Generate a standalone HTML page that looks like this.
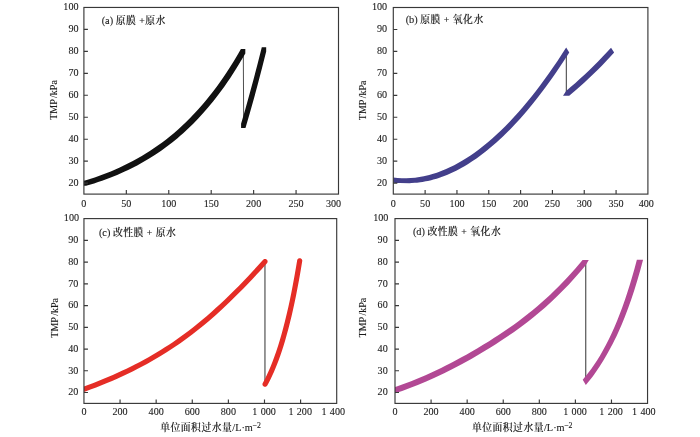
<!DOCTYPE html>
<html lang="zh-CN">
<head>
<meta charset="utf-8">
<title>TMP vs 单位面积过水量</title>
<style>
html,body{margin:0;padding:0;background:#fff;}
body{width:700px;height:437px;overflow:hidden;}
svg{display:block;will-change:transform;}
text{font-family:"Liberation Serif", "Noto Serif CJK SC", serif;fill:#1a1a1a;stroke:#1a1a1a;stroke-width:0.1px;}
.tk{font-size:11.0px;}
.lb{font-size:10.3px;}
.yl{font-size:10px;word-spacing:-0.8px;}
.cj{font-weight:500;stroke-width:0.15px;font-size:9.8px;letter-spacing:0.5px;}
</style>
</head>
<body>
<svg width="700" height="437" viewBox="0 0 700 437">
<rect width="700" height="437" fill="#ffffff"/>

<g id="panel-a">
<clipPath id="clip-a"><rect x="83.9" y="7.45" width="254.60" height="186.65"/></clipPath>
<line x1="243.3" y1="51.5" x2="243.70000000000002" y2="125.0" stroke="#222" stroke-width="0.8"/>
<path d="M114.74,169.69 110.74,171.38 106.73,172.99 102.73,174.52 98.72,175.98 94.72,177.38 90.71,178.71 86.71,179.97 81.70,181.47 81.70,185.87 86.10,185.87 94.11,183.43 98.12,182.12 102.12,180.74 106.13,179.29 110.13,177.78 117.14,174.94 124.15,171.86 128.16,169.98 131.16,168.52 137.17,165.42 143.18,162.11 149.18,158.56 155.19,154.76 161.20,150.69 166.21,147.08 169.21,144.81 172.21,142.47 177.22,138.39 180.22,135.82 183.23,133.17 188.23,128.56 193.24,123.68 198.25,118.52 203.25,113.08 208.26,107.32 213.27,101.24 218.27,94.82 221.28,90.79 224.28,86.64 227.29,82.34 230.29,77.90 233.29,73.32 236.30,68.58 241.30,60.33 245.31,53.41 245.31,49.01 240.91,49.01 237.91,54.23 233.90,60.93 230.90,65.78 226.89,71.99 223.89,76.48 219.88,82.24 216.88,86.39 212.87,91.73 209.87,95.58 205.86,100.53 201.86,105.26 197.85,109.79 193.85,114.12 189.84,118.27 185.84,122.24 181.83,126.04 177.83,129.67 173.82,133.14 169.82,136.46 165.81,139.64 161.81,142.68 157.80,145.58 153.80,148.36 149.79,151.01 145.78,153.54 141.78,155.96 137.77,158.28 132.77,161.02 128.76,163.11 123.76,165.58 119.75,167.46Z" fill="#111111" clip-path="url(#clip-a)"/>
<path d="M245.38,108.97 241.08,123.72 241.08,128.12 245.48,128.12 249.78,113.37 253.94,98.52 258.11,83.11 262.28,67.12 266.19,51.59 266.19,47.19 261.79,47.19 257.75,63.23 253.71,78.71 249.54,94.12Z" fill="#111111" clip-path="url(#clip-a)"/>
<rect x="83.9" y="7.45" width="254.60" height="186.65" fill="none" stroke="#383838" stroke-width="1.15"/>
<text class="tk" transform="translate(78.50,185.92) scale(0.92,1)" text-anchor="end">20</text>
<text class="tk" transform="translate(78.50,163.96) scale(0.92,1)" text-anchor="end">30</text>
<text class="tk" transform="translate(78.50,142.00) scale(0.92,1)" text-anchor="end">40</text>
<text class="tk" transform="translate(78.50,120.04) scale(0.92,1)" text-anchor="end">50</text>
<text class="tk" transform="translate(78.50,98.09) scale(0.92,1)" text-anchor="end">60</text>
<text class="tk" transform="translate(78.50,76.13) scale(0.92,1)" text-anchor="end">70</text>
<text class="tk" transform="translate(78.50,54.17) scale(0.92,1)" text-anchor="end">80</text>
<text class="tk" transform="translate(78.50,32.21) scale(0.92,1)" text-anchor="end">90</text>
<text class="tk" transform="translate(78.50,10.25) scale(0.92,1)" text-anchor="end">100</text>
<text class="tk" transform="translate(83.90,206.80) scale(0.92,1)" text-anchor="middle">0</text>
<text class="tk" transform="translate(126.33,206.80) scale(0.92,1)" text-anchor="middle">50</text>
<text class="tk" transform="translate(168.77,206.80) scale(0.92,1)" text-anchor="middle">100</text>
<text class="tk" transform="translate(211.20,206.80) scale(0.92,1)" text-anchor="middle">150</text>
<text class="tk" transform="translate(253.63,206.80) scale(0.92,1)" text-anchor="middle">200</text>
<text class="tk" transform="translate(296.07,206.80) scale(0.92,1)" text-anchor="middle">250</text>
<text class="tk" transform="translate(333.50,206.80) scale(0.92,1)" text-anchor="middle">300</text>
<path d="M83.9,183.12h4M83.9,161.16h4M83.9,139.20h4M83.9,117.24h4M83.9,95.29h4M83.9,73.33h4M83.9,51.37h4M83.9,29.41h4M126.33,194.1v-4M168.77,194.1v-4M211.20,194.1v-4M253.63,194.1v-4M296.07,194.1v-4" stroke="#383838" stroke-width="1.15" fill="none"/>
<text class="lb" x="101.7" y="24.0" xml:space="preserve">(a) <tspan class="cj">原膜 +原水</tspan></text>
<text class="yl" transform="translate(57.3,100.0) rotate(-90)" text-anchor="middle">TMP /kPa</text>
</g>
<g id="panel-b">
<clipPath id="clip-b"><rect x="393.3" y="7.5" width="254.60" height="186.60"/></clipPath>
<line x1="566.3" y1="52.0" x2="566.3" y2="93.5" stroke="#222" stroke-width="0.9"/>
<path d="M429.18,174.97 425.92,175.78 423.74,176.25 419.39,177.06 415.05,177.66 410.70,178.05 406.35,178.23 404.17,178.23 402.00,178.17 397.65,177.89 393.30,177.40 390.20,182.30 393.46,182.68 395.64,182.88 399.99,183.11 409.45,183.13 411.62,183.07 414.88,182.87 417.06,182.67 420.32,182.28 422.49,181.96 425.76,181.37 427.93,180.92 431.19,180.15 433.37,179.58 436.63,178.63 438.80,177.93 442.06,176.80 444.24,175.99 447.50,174.68 449.68,173.74 452.94,172.25 456.20,170.66 459.46,168.96 461.64,167.77 464.90,165.90 468.16,163.92 471.42,161.84 476.86,158.14 480.12,155.79 483.38,153.33 486.64,150.77 489.90,148.11 493.17,145.34 496.43,142.48 499.69,139.51 502.95,136.45 506.21,133.28 510.56,128.90 513.82,125.50 517.09,121.99 520.35,118.39 523.61,114.69 526.87,110.89 530.13,106.99 533.39,102.99 537.74,97.50 541.00,93.27 545.35,87.47 548.62,83.01 552.96,76.91 556.23,72.22 560.58,65.82 564.92,59.24 569.27,52.49 566.17,47.59 561.82,54.34 557.48,60.92 553.13,67.32 548.78,73.56 544.43,79.61 540.08,85.49 535.73,91.20 531.38,96.73 527.03,102.09 522.68,107.27 518.33,112.27 513.99,117.09 509.64,121.74 505.29,126.21 500.94,130.50 496.59,134.61 492.24,138.55 487.89,142.30 483.54,145.87 479.19,149.26 474.84,152.47 470.50,155.50 466.15,158.34 462.88,160.35 458.54,162.87 454.19,165.21 449.84,167.35 445.49,169.31 441.14,171.09 436.79,172.67 432.44,174.06Z" fill="#433f8b" clip-path="url(#clip-b)"/>
<path d="M575.44,82.89 570.91,86.82 566.11,90.89 563.01,95.79 569.21,95.79 576.84,89.28 584.19,82.70 591.54,75.82 598.60,68.90 602.56,64.88 606.52,60.77 610.47,56.55 614.15,52.54 611.05,47.64 606.81,52.26 602.29,57.06 598.05,61.43 593.52,65.97 589.00,70.38 584.48,74.67 579.96,78.83Z" fill="#433f8b" clip-path="url(#clip-b)"/>
<rect x="393.3" y="7.5" width="254.60" height="186.60" fill="none" stroke="#383838" stroke-width="1.15"/>
<text class="tk" transform="translate(387.10,185.92) scale(0.92,1)" text-anchor="end">20</text>
<text class="tk" transform="translate(387.10,163.97) scale(0.92,1)" text-anchor="end">30</text>
<text class="tk" transform="translate(387.10,142.02) scale(0.92,1)" text-anchor="end">40</text>
<text class="tk" transform="translate(387.10,120.06) scale(0.92,1)" text-anchor="end">50</text>
<text class="tk" transform="translate(387.10,98.11) scale(0.92,1)" text-anchor="end">60</text>
<text class="tk" transform="translate(387.10,76.16) scale(0.92,1)" text-anchor="end">70</text>
<text class="tk" transform="translate(387.10,54.21) scale(0.92,1)" text-anchor="end">80</text>
<text class="tk" transform="translate(387.10,32.25) scale(0.92,1)" text-anchor="end">90</text>
<text class="tk" transform="translate(387.10,10.30) scale(0.92,1)" text-anchor="end">100</text>
<text class="tk" transform="translate(393.30,206.80) scale(0.92,1)" text-anchor="middle">0</text>
<text class="tk" transform="translate(425.12,206.80) scale(0.92,1)" text-anchor="middle">50</text>
<text class="tk" transform="translate(456.95,206.80) scale(0.92,1)" text-anchor="middle">100</text>
<text class="tk" transform="translate(488.77,206.80) scale(0.92,1)" text-anchor="middle">150</text>
<text class="tk" transform="translate(520.60,206.80) scale(0.92,1)" text-anchor="middle">200</text>
<text class="tk" transform="translate(552.42,206.80) scale(0.92,1)" text-anchor="middle">250</text>
<text class="tk" transform="translate(584.25,206.80) scale(0.92,1)" text-anchor="middle">300</text>
<text class="tk" transform="translate(616.08,206.80) scale(0.92,1)" text-anchor="middle">350</text>
<text class="tk" transform="translate(646.30,206.80) scale(0.92,1)" text-anchor="middle">400</text>
<path d="M393.3,183.12h4M393.3,161.17h4M393.3,139.22h4M393.3,117.26h4M393.3,95.31h4M393.3,73.36h4M393.3,51.41h4M393.3,29.45h4M425.12,194.1v-4M456.95,194.1v-4M488.77,194.1v-4M520.60,194.1v-4M552.42,194.1v-4M584.25,194.1v-4M616.08,194.1v-4" stroke="#383838" stroke-width="1.15" fill="none"/>
<text class="lb" x="405.7" y="22.8" xml:space="preserve">(b) <tspan class="cj">原膜 + 氧化水</tspan></text>
<text class="yl" transform="translate(366.4,100.4) rotate(-90)" text-anchor="middle">TMP /kPa</text>
</g>
<g id="panel-c">
<clipPath id="clip-c"><rect x="83.95" y="218.6" width="252.75" height="184.80"/></clipPath>
<line x1="264.95" y1="263.0" x2="264.95" y2="383.0" stroke="#606060" stroke-width="1.3"/>
<path d="M121.87,370.86 112.76,374.95 103.65,378.81 93.40,382.89 83.15,386.73 82.42,387.10 81.85,387.68 81.48,388.40 81.35,389.21 81.48,390.01 81.85,390.74 82.42,391.31 83.15,391.68 83.95,391.81 84.75,391.68 90.45,389.57 96.14,387.40 106.39,383.29 112.09,380.89 116.64,378.90 125.75,374.73 132.59,371.43 140.14,367.59 146.98,363.95 153.81,360.11 160.64,356.08 167.48,351.83 174.31,347.36 180.00,343.46 186.84,338.56 192.53,334.28 198.22,329.82 203.92,325.19 209.61,320.38 216.45,314.38 222.14,309.20 228.97,302.78 233.53,298.37 238.08,293.86 243.21,288.69 247.77,284.00 252.33,279.22 256.88,274.36 261.44,269.40 267.13,263.10 267.50,262.37 267.63,261.57 267.50,260.77 267.13,260.04 266.56,259.47 265.83,259.10 265.03,258.97 264.22,259.10 263.50,259.47 262.92,260.04 257.23,266.35 252.67,271.30 248.12,276.17 243.56,280.95 239.01,285.64 233.89,290.79 229.33,295.27 224.78,299.65 220.22,303.94 215.67,308.12 211.11,312.20 206.56,316.17 202.00,320.03 197.45,323.78 192.89,327.42 188.33,330.95 184.92,333.51 180.36,336.84 176.95,339.26 172.39,342.39 168.97,344.67 164.42,347.62 161.00,349.77 156.45,352.56 148.48,357.20 143.92,359.74 139.36,362.19 134.81,364.56 130.98,366.49 126.42,368.71Z" fill="#e52d26" clip-path="url(#clip-c)"/>
<path d="M270.62,366.43 268.66,371.03 266.70,375.32 264.78,379.23 262.55,383.46 262.43,384.27 262.55,385.07 262.92,385.80 263.50,386.37 264.22,386.74 265.03,386.87 265.83,386.74 266.56,386.37 267.13,385.80 268.66,382.93 270.55,379.18 272.30,375.53 273.82,372.14 275.57,368.04 277.09,364.24 278.84,359.64 280.36,355.38 281.89,350.88 283.41,346.14 284.94,341.14 286.47,335.87 288.21,329.48 289.74,323.56 291.48,316.40 293.01,309.77 294.53,302.77 296.06,295.39 297.58,287.60 299.11,279.39 300.64,270.72 302.29,260.78 302.16,259.97 301.79,259.25 301.22,258.67 300.49,258.31 299.69,258.18 298.89,258.31 298.16,258.67 297.59,259.25 297.22,259.97 295.91,267.84 294.38,276.57 292.86,284.85 291.33,292.70 289.81,300.14 288.28,307.19 286.75,313.87 285.01,321.09 283.27,327.87 281.52,334.26 279.78,340.27 278.03,345.92 276.29,351.23 274.33,356.84 272.58,361.51Z" fill="#e52d26" clip-path="url(#clip-c)"/>
<rect x="83.95" y="218.6" width="252.75" height="184.80" fill="none" stroke="#383838" stroke-width="1.15"/>
<text class="tk" transform="translate(78.40,395.33) scale(0.92,1)" text-anchor="end">20</text>
<text class="tk" transform="translate(78.40,373.59) scale(0.92,1)" text-anchor="end">30</text>
<text class="tk" transform="translate(78.40,351.85) scale(0.92,1)" text-anchor="end">40</text>
<text class="tk" transform="translate(78.40,330.11) scale(0.92,1)" text-anchor="end">50</text>
<text class="tk" transform="translate(78.40,308.36) scale(0.92,1)" text-anchor="end">60</text>
<text class="tk" transform="translate(78.40,286.62) scale(0.92,1)" text-anchor="end">70</text>
<text class="tk" transform="translate(78.40,264.88) scale(0.92,1)" text-anchor="end">80</text>
<text class="tk" transform="translate(78.40,243.14) scale(0.92,1)" text-anchor="end">90</text>
<text class="tk" transform="translate(79.00,221.40) scale(0.92,1)" text-anchor="end">100</text>
<text class="tk" transform="translate(83.95,415.20) scale(0.92,1)" text-anchor="middle">0</text>
<text class="tk" transform="translate(120.06,415.20) scale(0.92,1)" text-anchor="middle">200</text>
<text class="tk" transform="translate(156.16,415.20) scale(0.92,1)" text-anchor="middle">400</text>
<text class="tk" transform="translate(192.27,415.20) scale(0.92,1)" text-anchor="middle">600</text>
<text class="tk" transform="translate(228.38,415.20) scale(0.92,1)" text-anchor="middle">800</text>
<text class="tk" transform="translate(264.09,415.20) scale(0.92,1)" text-anchor="middle">1 000</text>
<text class="tk" transform="translate(300.19,415.20) scale(0.92,1)" text-anchor="middle">1 200</text>
<text class="tk" transform="translate(333.20,415.20) scale(0.92,1)" text-anchor="middle">1 400</text>
<path d="M83.95,392.53h4M83.95,370.79h4M83.95,349.05h4M83.95,327.31h4M83.95,305.56h4M83.95,283.82h4M83.95,262.08h4M83.95,240.34h4M120.06,403.4v-4M156.16,403.4v-4M192.27,403.4v-4M228.38,403.4v-4M264.49,403.4v-4M300.59,403.4v-4" stroke="#383838" stroke-width="1.15" fill="none"/>
<text class="lb" x="98.9" y="235.9" xml:space="preserve">(c) <tspan class="cj">改性膜 + 原水</tspan></text>
<text class="yl" transform="translate(58.2,317.8) rotate(-90)" text-anchor="middle">TMP /kPa</text>
<text class="lb" x="210.5" y="431.3" text-anchor="middle"><tspan class="cj">单位面积过水量</tspan>/L·m<tspan dy="-3.3" dx="-0.4" font-size="7.8">−2</tspan></text>
</g>
<g id="panel-d">
<clipPath id="clip-d"><rect x="395.0" y="218.6" width="252.55" height="184.80"/></clipPath>
<line x1="585.75" y1="263.0" x2="585.75" y2="381.5" stroke="#444" stroke-width="1.1"/>
<path d="M431.47,372.48 425.48,375.17 420.68,377.24 415.88,379.23 411.09,381.14 406.29,382.98 401.49,384.74 396.70,386.42 391.90,388.01 395.00,393.31 402.20,390.89 410.59,387.83 417.79,385.02 426.18,381.51 434.57,377.78 439.37,375.55 444.17,373.24 452.56,369.04 457.36,366.54 462.16,363.97 471.75,358.64 481.34,353.04 490.94,347.20 495.73,344.18 500.53,341.09 507.73,336.30 513.72,332.16 520.92,326.97 526.91,322.45 532.91,317.73 538.91,312.80 544.90,307.64 550.90,302.23 556.89,296.57 562.89,290.62 568.89,284.38 574.88,277.83 580.88,270.95 585.68,265.20 588.78,259.90 582.58,259.90 578.98,264.23 575.38,268.44 571.78,272.53 566.99,277.79 563.39,281.61 558.59,286.53 554.99,290.10 550.20,294.70 546.60,298.03 541.80,302.34 537.01,306.49 532.21,310.48 527.41,314.34 522.61,318.07 517.82,321.67 513.02,325.16 508.22,328.53 503.43,331.82 498.63,335.01 493.83,338.11 489.04,341.15 483.04,344.85 477.04,348.46 472.25,351.27 466.25,354.70 461.45,357.36 451.86,362.50 445.86,365.57 441.07,367.94 436.27,370.25Z" fill="#b24894" clip-path="url(#clip-d)"/>
<path d="M593.96,365.06 591.23,368.94 588.51,372.60 585.78,376.03 582.72,379.66 585.82,384.96 587.86,382.57 589.91,380.07 591.95,377.45 593.99,374.71 596.04,371.85 597.74,369.36 599.78,366.24 601.49,363.54 603.53,360.15 607.31,353.69 610.72,347.61 612.76,343.73 614.46,340.37 616.51,336.15 618.21,332.49 621.62,324.75 624.68,317.26 626.38,312.87 628.09,308.32 631.15,299.67 634.22,290.42 637.28,280.51 640.35,269.91 643.07,259.87 636.87,259.87 634.49,268.69 632.11,277.06 629.72,285.00 627.34,292.53 624.95,299.67 622.23,307.39 619.84,313.76 617.12,320.65 614.39,327.13 611.67,333.24 608.95,338.98 605.88,345.04 603.16,350.10 600.09,355.43 597.02,360.41Z" fill="#b24894" clip-path="url(#clip-d)"/>
<rect x="395.0" y="218.6" width="252.55" height="184.80" fill="none" stroke="#383838" stroke-width="1.15"/>
<text class="tk" transform="translate(387.70,395.33) scale(0.92,1)" text-anchor="end">20</text>
<text class="tk" transform="translate(387.70,373.59) scale(0.92,1)" text-anchor="end">30</text>
<text class="tk" transform="translate(387.70,351.85) scale(0.92,1)" text-anchor="end">40</text>
<text class="tk" transform="translate(387.70,330.11) scale(0.92,1)" text-anchor="end">50</text>
<text class="tk" transform="translate(387.70,308.36) scale(0.92,1)" text-anchor="end">60</text>
<text class="tk" transform="translate(387.70,286.62) scale(0.92,1)" text-anchor="end">70</text>
<text class="tk" transform="translate(387.70,264.88) scale(0.92,1)" text-anchor="end">80</text>
<text class="tk" transform="translate(387.70,243.14) scale(0.92,1)" text-anchor="end">90</text>
<text class="tk" transform="translate(388.30,221.40) scale(0.92,1)" text-anchor="end">100</text>
<text class="tk" transform="translate(395.00,415.20) scale(0.92,1)" text-anchor="middle">0</text>
<text class="tk" transform="translate(431.08,415.20) scale(0.92,1)" text-anchor="middle">200</text>
<text class="tk" transform="translate(467.16,415.20) scale(0.92,1)" text-anchor="middle">400</text>
<text class="tk" transform="translate(503.24,415.20) scale(0.92,1)" text-anchor="middle">600</text>
<text class="tk" transform="translate(539.31,415.20) scale(0.92,1)" text-anchor="middle">800</text>
<text class="tk" transform="translate(574.99,415.20) scale(0.92,1)" text-anchor="middle">1 000</text>
<text class="tk" transform="translate(611.07,415.20) scale(0.92,1)" text-anchor="middle">1 200</text>
<text class="tk" transform="translate(643.85,415.20) scale(0.92,1)" text-anchor="middle">1 400</text>
<path d="M395.0,392.53h4M395.0,370.79h4M395.0,349.05h4M395.0,327.31h4M395.0,305.56h4M395.0,283.82h4M395.0,262.08h4M395.0,240.34h4M431.08,403.4v-4M467.16,403.4v-4M503.24,403.4v-4M539.31,403.4v-4M575.39,403.4v-4M611.47,403.4v-4" stroke="#383838" stroke-width="1.15" fill="none"/>
<text class="lb" x="412.9" y="235.1" xml:space="preserve">(d) <tspan class="cj">改性膜 + 氧化水</tspan></text>
<text class="yl" transform="translate(365.8,317.6) rotate(-90)" text-anchor="middle">TMP /kPa</text>
<text class="lb" x="522.2" y="431.3" text-anchor="middle"><tspan class="cj">单位面积过水量</tspan>/L·m<tspan dy="-3.3" dx="-0.4" font-size="7.8">−2</tspan></text>
</g>
</svg>
</body>
</html>
